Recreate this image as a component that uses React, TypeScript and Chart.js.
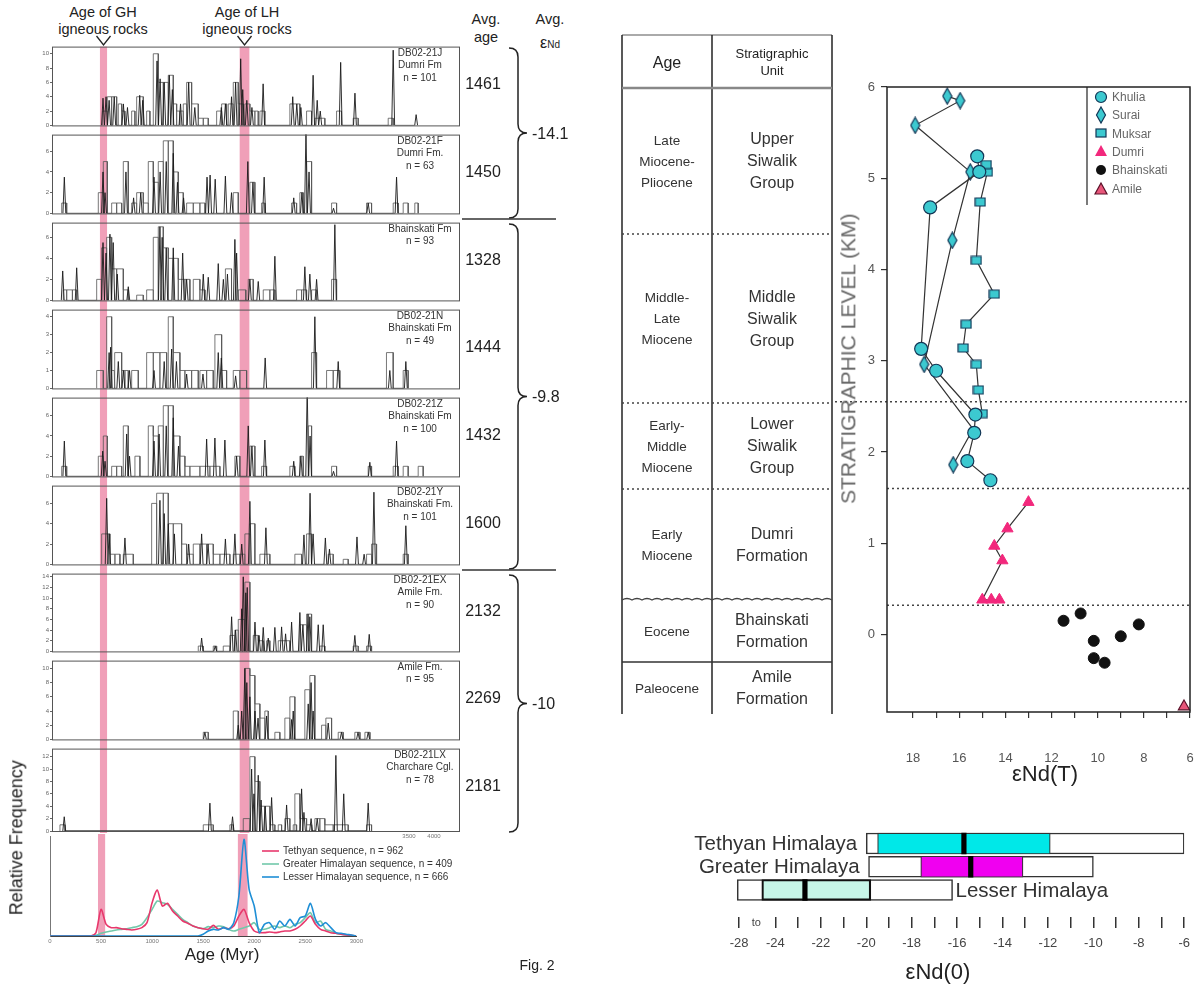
import React, { useEffect, useRef } from 'react';
import { Chart, registerables } from 'chart.js';

Chart.register(...registerables);

const FONT = '"Liberation Sans", Arial, Helvetica, sans-serif';
Chart.defaults.font.family = FONT;
Chart.defaults.color = '#444';

// ================= Detrital zircon panels (ages in Myr) =================
const PANEL_IDS = ['DB02-21J', 'DB02-21F', '', 'DB02-21N', 'DB02-21Z', 'DB02-21Y', 'DB02-21EX', '', 'DB02-21LX'];
const PANEL_UNITS = ['Dumri Fm', 'Dumri Fm.', 'Bhainskati Fm', 'Bhainskati Fm', 'Bhainskati Fm', 'Bhainskati Fm.', 'Amile Fm.', 'Amile Fm.', 'Charchare Cgl.'];
const PANEL_N = [101, 63, 93, 49, 100, 101, 90, 95, 78];
const AVG_AGES = [1461, 1450, 1328, 1444, 1432, 1600, 2132, 2269, 2181];
const PANEL_YMAX = [11, 7.6, 7.4, 4.4, 7.8, 7.75, 14.6, 11.1, 13.3];
const PANEL_YSTEP = [2, 2, 2, 1, 2, 2, 2, 2, 2];
const GROUP_EPS = ['-14.1', '-9.8', '-10'];
const GROUP_FIRST = [0, 2, 6];
const GROUP_LAST = [1, 5, 8];
const IGNEOUS_BANDS = [[470, 540], [1840, 1935]];
const HIST_X_LABELS = [3500, 4000];

// bars: [start, end, count]; peaks: [age, height]
const J_BARS = [[497, 542, 2], [542, 585, 4], [585, 634, 4], [650, 683, 3], [683, 715, 2], [781, 813, 2], [830, 895, 4], [928, 960, 2], [993, 1042, 10], [1042, 1091, 6], [1091, 1140, 6], [1140, 1189, 7], [1189, 1222, 3], [1222, 1254, 2], [1254, 1287, 2], [1287, 1320, 3], [1320, 1369, 6], [1369, 1434, 3], [1434, 1483, 1], [1483, 1532, 1], [1614, 1663, 2], [1663, 1712, 3], [1728, 1777, 3], [1777, 1826, 6], [1826, 1875, 3], [1891, 1940, 3], [1940, 1989, 2], [1989, 2022, 2], [2038, 2087, 2], [2332, 2430, 3], [2496, 2545, 2], [2577, 2675, 1], [2790, 2838, 2], [2953, 3002, 1], [3296, 3345, 1]];
const J_PEAKS = [[500, 3.8], [530, 4], [560, 3.5], [610, 4], [700, 3], [740, 2.5], [860, 4.2], [890, 3.5], [1030, 9], [1060, 6.5], [1100, 6], [1150, 7], [1180, 5], [1260, 3], [1340, 6], [1400, 2.5], [1660, 2.5], [1700, 3], [1760, 4], [1800, 6], [1850, 9.3], [1870, 5], [1910, 3.5], [1960, 2.5], [2070, 5.8], [2360, 4], [2400, 3], [2440, 2.5], [2560, 7], [2600, 3.5], [2630, 2], [2830, 8.8], [2970, 4.5], [3345, 10.5], [3570, 1.5]];
const F_BARS = [[95, 144, 1], [454, 503, 2], [503, 542, 5], [585, 634, 1], [634, 683, 1], [699, 748, 5], [781, 830, 1], [830, 895, 2], [895, 944, 1], [944, 993, 5], [993, 1042, 3], [1042, 1091, 5], [1091, 1140, 7], [1140, 1189, 7], [1189, 1238, 4], [1238, 1287, 2], [1320, 1385, 1], [1385, 1450, 1], [1450, 1500, 1], [1777, 1826, 2], [1940, 1989, 3], [2055, 2087, 1], [2349, 2398, 1], [2430, 2463, 2], [2496, 2545, 5], [2741, 2790, 1], [3084, 3133, 1], [3345, 3394, 1], [3443, 3492, 1], [3557, 3590, 1]];
const F_PEAKS = [[121, 3.5], [500, 4], [520, 2], [725, 4], [800, 1.5], [870, 2], [1000, 3.5], [1060, 4], [1120, 5], [1189, 5.8], [1230, 3], [1290, 1.5], [1520, 3.5], [1550, 3.7], [1600, 3.3], [1700, 3.6], [1760, 2], [1920, 5], [1970, 3], [2080, 3.5], [2370, 1.5], [2450, 2], [2490, 8], [2520, 4], [2760, 0.5], [3100, 1], [3378, 3.5]];
const BH_BARS = [[111, 144, 1], [144, 200, 1], [200, 242, 1], [438, 487, 2], [487, 536, 5], [536, 585, 6], [585, 634, 3], [634, 699, 3], [699, 748, 1], [830, 895, 0.5], [928, 993, 1], [993, 1042, 6], [1042, 1091, 7], [1091, 1140, 5], [1140, 1189, 4], [1189, 1238, 4], [1238, 1303, 2], [1303, 1352, 2], [1385, 1450, 2], [1450, 1500, 1], [1700, 1760, 3], [1826, 1900, 1], [1924, 1973, 2], [2071, 2136, 1], [2136, 2185, 1], [2398, 2447, 1], [2447, 2496, 1], [2545, 2594, 1], [2741, 2790, 2]];
const BH_PEAKS = [[105, 2.8], [242, 3.1], [500, 5.5], [530, 4.5], [568, 6.3], [600, 5.5], [640, 2.5], [748, 1.3], [1058, 7], [1080, 6], [1120, 5], [1189, 5], [1281, 4.5], [1320, 2], [1483, 2.5], [1532, 2.2], [1630, 3.5], [1680, 2], [1720, 2.5], [1793, 5.8], [1810, 4.5], [1940, 2], [2022, 1.8], [2185, 4.2], [2479, 3.2], [2528, 2.5], [2594, 2], [2773, 7.2]];
const N_BARS = [[438, 503, 1], [536, 585, 4], [585, 610, 1], [617, 683, 2], [683, 715, 1], [715, 748, 1], [781, 846, 1], [928, 993, 2], [993, 1058, 2], [1058, 1124, 2], [1140, 1189, 4], [1189, 1254, 2], [1254, 1303, 1], [1303, 1369, 1], [1369, 1434, 1], [1450, 1516, 1], [1516, 1581, 1], [1597, 1663, 3], [1663, 1712, 1], [1777, 1842, 1], [1842, 1908, 1], [2545, 2594, 2], [2692, 2757, 1], [2757, 2822, 1], [3279, 3345, 2], [3443, 3492, 1]];
const N_PEAKS = [[560, 2], [575, 2.3], [650, 1.5], [700, 1], [760, 1], [1000, 1], [1100, 1.5], [1173, 2.2], [1220, 1.5], [1320, 0.8], [1480, 0.8], [1630, 2], [1660, 1.7], [1800, 0.7], [2090, 1.7], [2577, 4], [2806, 1.5], [3312, 1], [3469, 1.5]];
const Z_BARS = [[95, 144, 1], [454, 503, 2], [503, 542, 4], [585, 634, 1], [634, 683, 1], [699, 748, 5], [813, 862, 2], [944, 993, 5], [993, 1042, 4], [1042, 1091, 5], [1091, 1140, 7], [1140, 1189, 7], [1189, 1254, 4], [1254, 1303, 2], [1303, 1352, 1], [1352, 1450, 1], [1450, 1548, 1], [1548, 1646, 1], [1793, 1842, 2], [1940, 1989, 3], [2055, 2104, 1], [2332, 2381, 1], [2430, 2463, 2], [2512, 2545, 5], [2741, 2790, 1], [3100, 3133, 1], [3345, 3394, 1], [3443, 3492, 1], [3590, 3639, 1]];
const Z_PEAKS = [[121, 3.5], [497, 2.5], [520, 1.5], [732, 4.2], [760, 2], [1000, 3.5], [1050, 4.2], [1120, 5], [1189, 5.8], [1240, 3], [1516, 3.7], [1597, 3.8], [1695, 3.6], [1810, 2], [1924, 5], [1960, 3], [2087, 3.6], [2370, 1.5], [2440, 2], [2502, 8.8], [2530, 4], [2760, 0.5], [3116, 1.4], [3378, 3.5]];
const Y_BARS = [[487, 568, 3], [568, 617, 1], [617, 666, 1], [699, 797, 1], [977, 1026, 6], [1026, 1091, 7], [1091, 1140, 7], [1140, 1189, 4], [1189, 1271, 4], [1271, 1320, 2], [1320, 1385, 1], [1385, 1450, 2], [1450, 1516, 2], [1516, 1581, 2], [1581, 1646, 1], [1646, 1744, 1], [1777, 1842, 1], [1842, 1891, 1], [1891, 1940, 3], [1940, 1989, 4], [2038, 2136, 1], [2381, 2447, 1], [2496, 2545, 3], [2708, 2757, 1], [2855, 2904, 0.5], [3084, 3133, 1], [3133, 3182, 2], [3443, 3492, 1]];
const Y_PEAKS = [[536, 6.5], [560, 3], [715, 2.6], [1058, 6.3], [1100, 5], [1140, 4], [1200, 3], [1340, 2], [1467, 3], [1530, 2], [1700, 2.5], [1793, 3], [1860, 2], [1940, 6.2], [2097, 3.6], [2470, 2.9], [2530, 7], [2560, 3], [2680, 2.6], [2720, 1.5], [2990, 2.7], [3060, 1], [3156, 7.1], [3469, 3.8]];
const EX_BARS = [[1434, 1483, 1], [1581, 1614, 1], [1679, 1744, 1], [1744, 1793, 3], [1793, 1826, 4], [1826, 1891, 6], [1891, 1940, 13], [1973, 2022, 3], [2022, 2071, 2], [2104, 2136, 2], [2218, 2332, 2], [2430, 2496, 5], [2496, 2545, 7], [2626, 2675, 1], [2953, 3002, 1], [3084, 3133, 1]];
const EX_PEAKS = [[1467, 2.5], [1600, 1], [1761, 6.5], [1800, 4], [1860, 8], [1875, 14], [1900, 11], [1914, 12], [1990, 5.5], [2030, 3], [2071, 4.5], [2120, 2.5], [2185, 4.5], [2251, 4.6], [2290, 3.3], [2349, 5.5], [2430, 7.3], [2460, 5], [2510, 7], [2528, 6.5], [2610, 5], [2659, 5], [2969, 3], [3110, 3.2]];
const AM_BARS = [[1483, 1532, 1], [1777, 1826, 4], [1891, 1940, 10], [1940, 1989, 9], [1989, 2038, 5], [2038, 2087, 3], [2087, 2120, 4], [2185, 2234, 1], [2283, 2332, 3], [2332, 2381, 6], [2479, 2528, 7], [2528, 2577, 9], [2643, 2685, 2], [2685, 2741, 3], [2806, 2855, 1], [2969, 3019, 1], [3068, 3117, 1]];
const AM_PEAKS = [[1499, 1], [1826, 2], [1860, 4], [1891, 10], [1910, 8], [1940, 6], [1990, 4], [2020, 3], [2104, 3.3], [2349, 2.8], [2365, 4], [2512, 5], [2540, 8], [2560, 4], [2708, 2.3], [2838, 1], [3000, 1], [3100, 1]];
const LX_BARS = [[78, 127, 1], [1483, 1581, 1], [1744, 1777, 1], [1875, 1940, 2], [1940, 1989, 12], [1989, 2038, 8], [2038, 2087, 4], [2087, 2136, 4], [2136, 2185, 1], [2218, 2251, 1], [2283, 2332, 2], [2365, 2398, 1], [2381, 2430, 6], [2430, 2496, 2], [2496, 2545, 1], [2577, 2626, 2], [2626, 2675, 2], [2675, 2757, 1], [2757, 2904, 1], [3084, 3133, 1]];
const LX_PEAKS = [[120, 2.3], [1548, 4.5], [1770, 2.3], [1957, 10], [1980, 6], [2022, 9], [2050, 5], [2090, 4], [2153, 5.4], [2300, 4.2], [2447, 6.8], [2470, 3], [2540, 2], [2600, 2], [2783, 12.2], [2860, 6], [3100, 4.5]];

const PANEL_BARS = [J_BARS, F_BARS, BH_BARS, N_BARS, Z_BARS, Y_BARS, EX_BARS, AM_BARS, LX_BARS];
const PANEL_PEAKS = [J_PEAKS, F_PEAKS, BH_PEAKS, N_PEAKS, Z_PEAKS, Y_PEAKS, EX_PEAKS, AM_PEAKS, LX_PEAKS];

// ================= Relative frequency curves (0..3000 Myr, step 50) =================
const FREQ_STEP = 50;
const FREQ_TICKS = [0, 500, 1000, 1500, 2000, 2500, 3000];
const FREQ_TETHYAN = [0, 0, 0, 0, 0, 0, 0, 0, 0, 10, 80, 35, 25, 25, 22, 20, 18, 20, 25, 40, 100, 138, 90, 98, 75, 60, 45, 38, 30, 25, 22, 20, 32, 20, 25, 22, 30, 60, 80, 40, 15, 10, 10, 12, 10, 12, 15, 15, 20, 30, 45, 60, 35, 20, 15, 10, 8, 5, 3, 2, 0];
const FREQ_GREATER = [0, 0, 0, 0, 0, 0, 0, 0, 0, 2, 8, 12, 15, 18, 20, 22, 25, 28, 35, 55, 80, 105, 100, 95, 80, 65, 50, 40, 30, 25, 22, 28, 25, 30, 28, 20, 15, 20, 25, 30, 40, 20, 20, 25, 30, 25, 30, 25, 35, 40, 55, 70, 40, 45, 20, 15, 8, 5, 3, 1, 0];
const FREQ_LESSER = [0, 0, 0, 0, 0, 0, 0, 0, 0, 0, 0, 0, 0, 0, 0, 0, 0, 0, 0, 0, 0, 0, 0, 0, 0, 0, 0, 0, 0, 0, 5, 15, 20, 18, 25, 20, 40, 120, 290, 140, 90, 10, 35, 40, 20, 45, 30, 50, 30, 55, 60, 98, 50, 30, 40, 25, 10, 8, 5, 3, 0];
const FREQ_NAMES = ['Tethyan sequence, n = 962', 'Greater Himalayan sequence, n = 409', 'Lesser Himalayan sequence, n = 666'];
const FREQ_COLORS = ['#e8386c', '#72c8aa', '#1f8fd6'];

// ================= εNd(T) vs stratigraphic level =================
const KHULIA_EPS = [14.65, 15.65, 15.35, 15.3, 17.0, 17.65, 17.26, 15.13, 15.22];
const KHULIA_LVL = [1.69, 1.9, 2.21, 2.41, 2.89, 3.13, 4.68, 5.07, 5.24];
const SURAI_EPS = [16.26, 15.4, 17.52, 16.3, 15.52, 17.91, 15.96, 16.52];
const SURAI_LVL = [1.86, 2.25, 2.96, 4.32, 5.07, 5.58, 5.85, 5.9];
const SURAI_SIZE = [6, 0, 6, 6, 6, 6, 6, 6];
const MUKSAR_EPS = [15.0, 15.17, 15.26, 15.83, 15.7, 14.48, 15.26, 15.09, 14.78, 14.83];
const MUKSAR_LVL = [2.42, 2.68, 2.96, 3.14, 3.4, 3.73, 4.1, 4.74, 5.07, 5.15];
const DUMRI_EPS = [14.26, 14.61, 15.0, 14.13, 14.48, 13.91, 13.0];
const DUMRI_LVL = [0.38, 0.38, 0.38, 0.81, 0.97, 1.16, 1.45];
const BHAIN_EPS = [11.48, 10.74, 8.22, 9.0, 10.17, 10.17, 9.7];
const BHAIN_LVL = [0.15, 0.23, 0.11, -0.02, -0.07, -0.26, -0.31];
const AMILE_EPS = [6.26];
const AMILE_LVL = [-0.79];
const EPS_T_TICKS = [6, 7, 8, 9, 10, 11, 12, 13, 14, 15, 16, 17, 18];
const LEVEL_TICKS = [0, 1, 2, 3, 4, 5, 6];
const UNIT_BOUNDARIES = [2.55, 1.6, 0.32];
const BOUNDARY_EXTENDS = [true, false, false];
const LEGEND_NAMES = ['Khulia', 'Surai', 'Muksar', 'Dumri', 'Bhainskati', 'Amile'];

// ================= Stratigraphic table =================
const TABLE_AGE = ['Late\nMiocene-\nPliocene', 'Middle-\nLate\nMiocene', 'Early-\nMiddle\nMiocene', 'Early\nMiocene', 'Eocene', 'Paleocene'];
const TABLE_UNIT = ['Upper\nSiwalik\nGroup', 'Middle\nSiwalik\nGroup', 'Lower\nSiwalik\nGroup', 'Dumri\nFormation', 'Bhainskati\nFormation', 'Amile\nFormation'];

// ================= εNd(0) ranges =================
const BOX_ROWS = ['Tethyan Himalaya', 'Greater Himalaya', 'Lesser Himalaya'];
const BOX_MIN = [-20.0, -19.9, -28.2];
const BOX_Q1 = [-19.5, -17.6, -25.5];
const BOX_MED = [-15.7, -15.4, -22.7];
const BOX_Q3 = [-11.9, -13.1, -19.8];
const BOX_MAX = [-6.0, -10.0, -16.2];
const BOX_FILL = ['#00e8e8', '#f000f0', '#c6f6e8'];
const BOX_LABEL_SIDE = ['left', 'left', 'right'];
const BOX_TICKS = [-28, -24, -23, -22, -21, -20, -19, -18, -17, -16, -15, -14, -13, -12, -11, -10, -9, -8, -7, -6];
const BREAK_AT = -24;
const BREAK_SCALE = 0.4;
const BREAK_LABEL_AT = -26.1;

// ================= helpers =================
const mapEps = (v: number) => (v < BREAK_AT ? BREAK_AT + (v - BREAK_AT) * BREAK_SCALE : v);
const BAND_FILL = 'rgba(230,100,140,0.62)';
const CYAN = '#3cc9d0';
const NAVY = '#123656';

const PANEL_TOP0 = 45;
const PANEL_PITCH = 87.75;
const PANEL_H = 84;
const panelTop = (i: number) => Math.round(PANEL_TOP0 + i * PANEL_PITCH);

function outlinePoints(bars: number[][]) {
  const pts: any[] = [];
  bars.slice().sort((a, b) => a[0] - b[0]).forEach(([s, e, h]) => {
    pts.push({ x: s, y: 0 }, { x: s, y: h }, { x: e, y: h }, { x: e, y: 0 });
  });
  return pts;
}
function spikePoints(peaks: number[][]) {
  const pts: any[] = [];
  peaks.slice().sort((a, b) => a[0] - b[0]).forEach(([a, h]) => {
    pts.push({ x: a - 14, y: 0 }, { x: a, y: h }, { x: a + 14, y: 0 });
  });
  return pts;
}
const pairs = (xs: number[], ys: number[]) => xs.map((x, i) => ({ x, y: ys[i] }));

function makeMarker(kind: string, w: number, h: number, fill: string, stroke: string) {
  const c = document.createElement('canvas');
  c.width = w; c.height = h;
  const g = c.getContext('2d')!;
  g.fillStyle = fill; g.strokeStyle = stroke; g.lineWidth = 1.2;
  g.beginPath();
  if (kind === 'diamond') {
    g.moveTo(w / 2, 1); g.lineTo(w - 1, h / 2); g.lineTo(w / 2, h - 1); g.lineTo(1, h / 2); g.closePath();
  } else {
    g.rect(1, 1, w - 2, h - 2);
  }
  g.fill(); g.stroke();
  return c;
}

const baseOpts = {
  animation: false,
  responsive: false,
  devicePixelRatio: 1,
  events: [],
  plugins: { legend: { display: false }, tooltip: { enabled: false } },
};

function histConfig(i: number, canvasH: number) {
  const ymax = PANEL_YMAX[i];
  const yt: any[] = [];
  for (let v = 0; v <= ymax; v += PANEL_YSTEP[i]) yt.push({ value: v });
  const decor = {
    id: 'histDecor' + i,
    beforeDatasetsDraw(chart: any) {
      const { ctx, chartArea: a, scales } = chart;
      ctx.save();
      ctx.fillStyle = BAND_FILL;
      const y0 = i === 0 ? a.top : 0;
      const y1 = i === 8 ? a.bottom + 2 : chart.height;
      IGNEOUS_BANDS.forEach(([s, e]) => {
        const x0 = scales.x.getPixelForValue(s);
        const x1 = scales.x.getPixelForValue(e);
        ctx.fillRect(x0, y0, x1 - x0, y1 - y0);
      });
      ctx.restore();
    },
    afterDraw(chart: any) {
      const { ctx, chartArea: a, scales } = chart;
      ctx.save();
      ctx.strokeStyle = '#555';
      ctx.lineWidth = 1;
      ctx.strokeRect(a.left + 0.5, a.top + 0.5, a.width - 1, a.height);
      if (i === 8) {
        ctx.fillStyle = '#777';
        ctx.font = '6px ' + FONT;
        ctx.textAlign = 'center';
        ctx.textBaseline = 'top';
        HIST_X_LABELS.forEach((v) => ctx.fillText(String(v), scales.x.getPixelForValue(v) - (v === 4000 ? 26 : 0), a.bottom + 2));
      }
      ctx.restore();
    },
  };
  return {
    type: 'line',
    data: {
      datasets: [
        { data: spikePoints(PANEL_PEAKS[i]), borderColor: '#1a1a1a', borderWidth: 0.9, pointRadius: 0, tension: 0, fill: false },
        { data: outlinePoints(PANEL_BARS[i]), borderColor: '#555', borderWidth: 0.8, pointRadius: 0, tension: 0, fill: false },
      ],
    },
    options: {
      ...baseOpts,
      layout: { padding: { top: 3, right: 2, left: 0, bottom: canvasH - 3 - PANEL_H } },
      scales: {
        x: { type: 'linear', min: 0, max: 4000, display: false },
        y: {
          type: 'linear', min: 0, max: ymax,
          afterFit: (s: any) => { s.width = 24; },
          afterBuildTicks: (s: any) => { s.ticks = yt; },
          ticks: { font: { size: 6 }, color: '#666', padding: 1, autoSkip: false },
          grid: { drawOnChartArea: false, tickLength: 2, color: '#666' },
          border: { display: false },
        },
      },
    },
    plugins: [decor],
  };
}

function freqConfig() {
  const decor = {
    id: 'freqDecor',
    beforeDatasetsDraw(chart: any) {
      const { ctx, chartArea: a, scales } = chart;
      ctx.save();
      ctx.fillStyle = BAND_FILL;
      IGNEOUS_BANDS.forEach(([s, e]) => {
        const x0 = scales.x.getPixelForValue(s);
        const x1 = scales.x.getPixelForValue(e);
        ctx.fillRect(x0, 0, x1 - x0, a.bottom);
      });
      ctx.restore();
    },
  };
  const series = [FREQ_LESSER, FREQ_TETHYAN, FREQ_GREATER];
  const colors = [FREQ_COLORS[2], FREQ_COLORS[0], FREQ_COLORS[1]];
  return {
    type: 'line',
    data: {
      datasets: series.map((s, k) => ({
        data: s.map((v, j) => ({ x: j * FREQ_STEP, y: v })),
        borderColor: colors[k], borderWidth: 1.6, pointRadius: 0, tension: 0.25, fill: false,
      })),
    },
    options: {
      ...baseOpts,
      layout: { padding: { top: 2, right: 7, left: 0, bottom: 0 } },
      scales: {
        x: {
          type: 'linear', min: 0, max: 3000,
          afterBuildTicks: (s: any) => { s.ticks = FREQ_TICKS.map((v) => ({ value: v })); },
          afterFit: (s: any) => { s.height = 14; },
          ticks: { font: { size: 6 }, color: '#777', padding: 2, autoSkip: false, maxRotation: 0, callback: (v: number) => String(v) },
          grid: { display: false, drawTicks: false },
          border: { color: '#444', width: 1 },
        },
        y: {
          type: 'linear', min: 0, max: 300,
          afterFit: (s: any) => { s.width = 30; },
          ticks: { display: false },
          grid: { display: false, drawTicks: false },
          border: { color: '#777', width: 1 },
        },
      },
    },
    plugins: [decor],
  };
}

function scatterConfig() {
  const diamond = makeMarker('diamond', 11, 18, CYAN, NAVY);
  const square = makeMarker('rect', 12, 10, CYAN, NAVY);
  const decor = {
    id: 'scatterDecor',
    beforeDatasetsDraw(chart: any) {
      const { ctx, chartArea: a, scales } = chart;
      ctx.save();
      ctx.strokeStyle = '#444';
      ctx.lineWidth = 1.6;
      ctx.setLineDash([2, 3]);
      UNIT_BOUNDARIES.forEach((lvl, k) => {
        const y = scales.y.getPixelForValue(lvl);
        ctx.beginPath();
        ctx.moveTo(BOUNDARY_EXTENDS[k] ? 0 : a.left, y);
        ctx.lineTo(a.right, y);
        ctx.stroke();
      });
      ctx.restore();
    },
    afterDraw(chart: any) {
      const { ctx, chartArea: a } = chart;
      ctx.save();
      ctx.strokeStyle = '#222';
      ctx.lineWidth = 1.5;
      ctx.strokeRect(a.left, a.top, a.width, a.height);
      ctx.restore();
    },
  };
  const line = { showLine: true, borderColor: '#333', borderWidth: 1.2, clip: false };
  return {
    type: 'scatter',
    data: {
      datasets: [
        { label: 'Khulia', data: pairs(KHULIA_EPS, KHULIA_LVL), ...line, pointStyle: 'circle', pointRadius: 6.5, pointBackgroundColor: CYAN, pointBorderColor: NAVY, pointBorderWidth: 1.2 },
        { label: 'Muksar', data: pairs(MUKSAR_EPS, MUKSAR_LVL), ...line, pointStyle: square, pointRadius: 6 },
        { label: 'Surai', data: pairs(SURAI_EPS, SURAI_LVL), ...line, pointStyle: diamond, pointRadius: SURAI_SIZE },
        { label: 'Dumri', data: pairs(DUMRI_EPS, DUMRI_LVL), ...line, pointStyle: 'triangle', pointRadius: 6.5, pointBackgroundColor: '#f2287c', pointBorderColor: '#f2287c', pointBorderWidth: 1 },
        { label: 'Bhainskati', data: pairs(BHAIN_EPS, BHAIN_LVL), showLine: false, clip: false, pointStyle: 'circle', pointRadius: 5.5, pointBackgroundColor: '#111', pointBorderColor: '#111' },
        { label: 'Amile', data: pairs(AMILE_EPS, AMILE_LVL), showLine: false, clip: false, pointStyle: 'triangle', pointRadius: 6.5, pointBackgroundColor: '#e8567a', pointBorderColor: '#5a1028', pointBorderWidth: 1.2 },
      ],
    },
    options: {
      ...baseOpts,
      layout: { padding: { top: 27, right: 8, left: 0, bottom: 0 } },
      scales: {
        x: {
          type: 'linear', reverse: true, min: 6, max: 19.13,
          afterBuildTicks: (s: any) => { s.ticks = EPS_T_TICKS.map((v) => ({ value: v })); },
          afterFit: (s: any) => { s.height = 88; },
          ticks: { autoSkip: false, maxRotation: 0, padding: 33, font: { size: 13 }, color: '#555', callback: (v: number) => (v % 2 === 0 ? String(v) : '') },
          grid: { drawOnChartArea: false, drawTicks: true, tickLength: 6, color: '#333', lineWidth: 1.2 },
          border: { display: false },
        },
        y: {
          type: 'linear', min: -0.85, max: 6.0,
          afterBuildTicks: (s: any) => { s.ticks = LEVEL_TICKS.map((v) => ({ value: v })); },
          afterFit: (s: any) => { s.width = 52; },
          ticks: { padding: 6, font: { size: 13 }, color: '#555', autoSkip: false },
          grid: { drawOnChartArea: false, tickLength: 6, color: '#333', lineWidth: 1.2 },
          border: { display: false },
        },
      },
    },
    plugins: [decor],
  };
}

function boxConfig() {
  const labels = BOX_TICKS.map((v) => (v % 2 === 0 ? String(v) : ''));
  const decor = {
    id: 'boxDecor',
    afterDraw(chart: any) {
      const { ctx, chartArea: a, scales } = chart;
      ctx.save();
      ctx.fillStyle = '#333';
      ctx.font = '20.5px ' + FONT;
      ctx.textBaseline = 'middle';
      BOX_ROWS.forEach((name, r) => {
        const y = scales.y.getPixelForValue(r);
        if (BOX_LABEL_SIDE[r] === 'left') {
          ctx.textAlign = 'right';
          ctx.fillText(name, scales.x.getPixelForValue(mapEps(BOX_MIN[r])) - 9, y + 1);
        } else {
          ctx.textAlign = 'left';
          ctx.fillText(name, scales.x.getPixelForValue(mapEps(BOX_MAX[r])) + 3, y + 1);
        }
      });
      ctx.font = '11px ' + FONT;
      ctx.textAlign = 'center';
      ctx.fillStyle = '#444';
      ctx.fillText('to', scales.x.getPixelForValue(mapEps(BREAK_LABEL_AT)), a.bottom + 6);
      ctx.restore();
    },
  };
  const common = { barThickness: 21, grouped: false, borderSkipped: false };
  return {
    type: 'bar',
    data: {
      datasets: [
        { ...common, data: BOX_MED.map((m, r) => ({ y: r, x: [mapEps(m) - 0.1, mapEps(m) + 0.1] })), backgroundColor: '#000', borderWidth: 0 },
        { ...common, data: BOX_Q1.map((q, r) => ({ y: r, x: [mapEps(q), mapEps(BOX_Q3[r])] })), backgroundColor: BOX_FILL, borderColor: ['#333', '#333', '#111'], borderWidth: [1.2, 1.2, 2.2] },
        { ...common, data: BOX_MIN.map((q, r) => ({ y: r, x: [mapEps(q), mapEps(BOX_MAX[r])] })), backgroundColor: '#fff', borderColor: '#333', borderWidth: 1.5 },
      ],
    },
    options: {
      ...baseOpts,
      indexAxis: 'y',
      layout: { padding: { top: 8, right: 8, left: 50, bottom: 0 } },
      scales: {
        y: { type: 'linear', min: -0.48, max: 2.76, reverse: true, display: false },
        x: {
          type: 'linear', min: -26, max: -6,
          afterBuildTicks: (s: any) => { s.ticks = BOX_TICKS.map((v) => ({ value: mapEps(v) })); },
          afterFit: (s: any) => { s.height = 70; },
          ticks: { autoSkip: false, maxRotation: 0, padding: 8, font: { size: 13 }, color: '#444', callback: (_v: any, idx: number) => labels[idx] },
          grid: { drawOnChartArea: false, drawTicks: true, tickLength: 11, lineWidth: 1.5, color: '#333' },
          border: { display: false },
        },
      },
    },
    plugins: [decor],
  };
}

function ChartBox({ left, top, width, height, make }: any) {
  const ref = useRef<HTMLCanvasElement>(null);
  useEffect(() => {
    const chart = new Chart(ref.current as any, make() as any);
    return () => chart.destroy();
  }, []);
  return <canvas ref={ref} width={width} height={height} style={{ position: 'absolute', left, top, width, height }} />;
}

function Txt({ x, y, size = 14, align = 'center', w = 300, lh, color = '#222', children }: any) {
  const L = lh ?? Math.round(size * 1.2);
  const left = align === 'center' ? x - w / 2 : align === 'right' ? x - w : x;
  return (
    <div style={{ position: 'absolute', left, top: y - L / 2, width: w, textAlign: align, fontSize: size, lineHeight: L + 'px', color, whiteSpace: 'pre' }}>
      {children}
    </div>
  );
}

function VTxt({ x, y, size, w, color = '#222', children }: any) {
  const h = size * 1.3;
  return (
    <div style={{ position: 'absolute', left: x - w / 2, top: y - h / 2, width: w, height: h, lineHeight: h + 'px', textAlign: 'center', fontSize: size, color, whiteSpace: 'pre', transform: 'rotate(-90deg)' }}>
      {children}
    </div>
  );
}

const TABLE_LEFT = 622, TABLE_MID = 712, TABLE_RIGHT = 832, TABLE_TOP = 35, TABLE_BOTTOM = 714;
const TABLE_ROW_EDGES = [88, 234, 403, 489, 600, 662, 714];
const TABLE_EDGE_STYLE = ['solid', 'dotted', 'dotted', 'dotted', 'wavy', 'solid'];

function Decor() {
  const brace = (x: number, y0: number, y1: number, w: number) => {
    const ym = (y0 + y1) / 2, xm = x + w / 2, r = 9;
    return `M${x},${y0} Q${xm},${y0} ${xm},${y0 + r} L${xm},${ym - r} Q${xm},${ym} ${x + w},${ym} Q${xm},${ym} ${xm},${ym + r} L${xm},${y1 - r} Q${xm},${y1} ${x},${y1}`;
  };
  let wave = `M${TABLE_LEFT},${TABLE_ROW_EDGES[4]}`;
  for (let xx = TABLE_LEFT; xx < TABLE_RIGHT; xx += 10) wave += ' q5,-3 10,0';
  const chevX = IGNEOUS_BANDS.map(([s, e]) => 52 + ((s + e) / 2) * (408 / 4000));
  return (
    <svg width={1198} height={987} style={{ position: 'absolute', left: 0, top: 0 }}>
      {chevX.map((x, k) => (
        <polyline key={k} points={`${x - 7},36 ${x},45 ${x + 7},36`} fill="none" stroke="#222" strokeWidth={1.3} />
      ))}
      {GROUP_FIRST.map((f, g) => (
        <path key={g} d={brace(509, panelTop(f) + 3, panelTop(GROUP_LAST[g]) + PANEL_H + 1, 18)} fill="none" stroke="#222" strokeWidth={1.5} />
      ))}
      {[1, 5].map((k) => {
        const y = (panelTop(k) + PANEL_H + panelTop(k + 1)) / 2;
        return <line key={k} x1={462} y1={y} x2={556} y2={y} stroke="#333" strokeWidth={1.6} />;
      })}
      <line x1={TABLE_LEFT} y1={TABLE_TOP} x2={TABLE_RIGHT} y2={TABLE_TOP} stroke="#aaa" strokeWidth={2} />
      {[TABLE_LEFT, TABLE_MID, TABLE_RIGHT].map((x) => (
        <line key={x} x1={x} y1={TABLE_TOP} x2={x} y2={TABLE_BOTTOM} stroke="#222" strokeWidth={1.5} />
      ))}
      {TABLE_EDGE_STYLE.map((st, k) => {
        const y = TABLE_ROW_EDGES[k];
        if (st === 'wavy') return <path key={k} d={wave} fill="none" stroke="#444" strokeWidth={1.3} />;
        if (st === 'dotted') return <line key={k} x1={TABLE_LEFT} y1={y} x2={TABLE_RIGHT} y2={y} stroke="#444" strokeWidth={1.6} strokeDasharray="2 3" />;
        return <line key={k} x1={TABLE_LEFT} y1={y} x2={TABLE_RIGHT} y2={y} stroke={k === 0 ? '#888' : '#333'} strokeWidth={k === 0 ? 2.5 : 1.3} />;
      })}
      <line x1={1087} y1={87} x2={1087} y2={205} stroke="#333" strokeWidth={1.3} />
      <circle cx={1101} cy={97} r={5.5} fill={CYAN} stroke={NAVY} strokeWidth={1.2} />
      <polygon points="1101,107 1105.5,115 1101,123 1096.5,115" fill={CYAN} stroke={NAVY} strokeWidth={1.2} />
      <rect x={1096} y={129} width={10} height={8} fill={CYAN} stroke={NAVY} strokeWidth={1.2} />
      <polygon points="1101,145 1107,156 1095,156" fill="#f2287c" />
      <circle cx={1101} cy={170} r={5} fill="#111" />
      <polygon points="1101,183 1107,194 1095,194" fill="#e8567a" stroke="#5a1028" strokeWidth={1.2} />
      {FREQ_COLORS.map((c, k) => (
        <line key={k} x1={262} y1={851 + 13 * k} x2={279} y2={851 + 13 * k} stroke={c} strokeWidth={1.6} />
      ))}
    </svg>
  );
}

export default function App() {
  useEffect(() => {
    document.body.style.margin = '0';
  }, []);
  const rowEdges = TABLE_ROW_EDGES;
  return (
    <div style={{ position: 'absolute', left: 0, top: 0, width: 1198, height: 987, background: '#fff', overflow: 'hidden', fontFamily: FONT, color: '#222' }}>
      <Decor />

      <Txt x={103} y={12} size={14.5} lh={17}>{'Age of GH\nigneous rocks'}</Txt>
      <Txt x={247} y={12} size={14.5} lh={17}>{'Age of LH\nigneous rocks'}</Txt>
      <Txt x={486} y={19} size={14.5} lh={18}>{'Avg.\nage'}</Txt>
      <Txt x={550} y={19} size={14.5}>Avg.</Txt>
      <Txt x={550} y={42} size={16}>
        <span>ε<span style={{ fontSize: 10 }}>Nd</span></span>
      </Txt>

      {PANEL_IDS.map((_, i) => {
        const top = panelTop(i);
        const canvasTop = top - 3;
        const canvasH = i < 8 ? panelTop(i + 1) - top : 100;
        const lines = (PANEL_IDS[i] ? PANEL_IDS[i] + '\n' : '') + PANEL_UNITS[i] + '\nn = ' + PANEL_N[i];
        return (
          <React.Fragment key={i}>
            <ChartBox left={28} top={canvasTop} width={434} height={canvasH} make={() => histConfig(i, canvasH)} />
            <Txt x={420} y={top + 8} size={10} lh={12.5} w={80} color="#333">{lines}</Txt>
            <Txt x={483} y={top + 38} size={16}>{String(AVG_AGES[i])}</Txt>
          </React.Fragment>
        );
      })}
      {GROUP_EPS.map((t, g) => (
        <Txt key={g} x={532} y={(panelTop(GROUP_FIRST[g]) + 3 + panelTop(GROUP_LAST[g]) + PANEL_H + 1) / 2} size={16} align="left" w={60}>{t}</Txt>
      ))}

      <ChartBox left={20} top={834} width={345} height={116} make={freqConfig} />
      {FREQ_NAMES.map((n, k) => (
        <Txt key={k} x={283} y={851 + 13 * k} size={10} align="left" w={200} color="#333">{n}</Txt>
      ))}
      <Txt x={222} y={955} size={17}>Age (Myr)</Txt>
      <VTxt x={17} y={838} size={18} w={220}>Relative Frequency</VTxt>
      <Txt x={537} y={965} size={14}>Fig. 2</Txt>

      <Txt x={(TABLE_LEFT + TABLE_MID) / 2} y={62} size={16}>Age</Txt>
      <Txt x={(TABLE_MID + TABLE_RIGHT) / 2} y={53} size={13} lh={17}>{'Stratigraphic\nUnit'}</Txt>
      {TABLE_AGE.map((t, k) => (
        <div key={k} style={{ position: 'absolute', left: TABLE_LEFT, top: rowEdges[k], width: TABLE_MID - TABLE_LEFT, height: rowEdges[k + 1] - rowEdges[k], display: 'flex', alignItems: 'center', justifyContent: 'center', textAlign: 'center', whiteSpace: 'pre', fontSize: 13.5, lineHeight: '21px', color: '#333' }}>{t}</div>
      ))}
      {TABLE_UNIT.map((t, k) => (
        <div key={k} style={{ position: 'absolute', left: TABLE_MID, top: rowEdges[k], width: TABLE_RIGHT - TABLE_MID, height: rowEdges[k + 1] - rowEdges[k], display: 'flex', alignItems: 'center', justifyContent: 'center', textAlign: 'center', whiteSpace: 'pre', fontSize: 16, lineHeight: '22px', color: '#333' }}>{t}</div>
      ))}

      <ChartBox left={835} top={60} width={363} height={740} make={scatterConfig} />
      {LEGEND_NAMES.map((n, k) => (
        <Txt key={k} x={1112} y={97 + 18.3 * k} size={12} align="left" w={80} color="#666">{n}</Txt>
      ))}
      <VTxt x={848} y={359} size={21} w={360} color="#666">STRATIGRAPHIC LEVEL (KM)</VTxt>
      <Txt x={1045} y={774} size={22}>εNd(T)</Txt>

      <ChartBox left={680} top={815} width={518} height={172} make={boxConfig} />
      <Txt x={938} y={972} size={22}>εNd(0)</Txt>
    </div>
  );
}
